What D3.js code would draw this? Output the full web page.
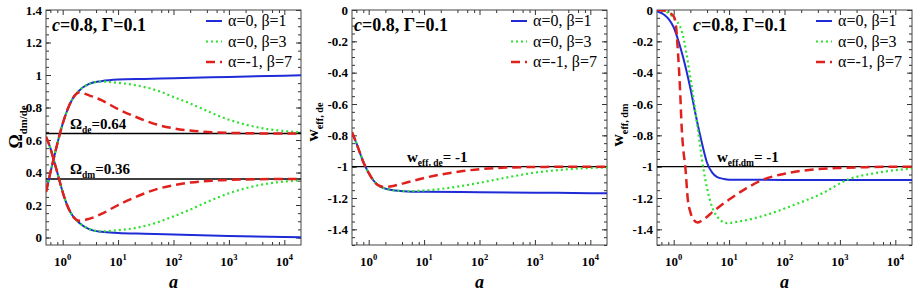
<!DOCTYPE html>
<html>
<head>
<meta charset="utf-8">
<script src="https://cdn.jsdelivr.net/npm/d3@7"></script>
<style>
body { margin: 0; background: #fff; }
</style>
</head>
<body>
<svg id="chart" width="917" height="300"></svg>
<script>
const fontFamily = 'Liberation Serif';

// x range shared by all panels
const aDomain = [0.5, 2e4];
const xMajor = [1, 10, 100, 1000, 10000];
const xExp = ['0', '1', '2', '3', '4'];

const omegaTicks = [0, 0.2, 0.4, 0.6, 0.8, 1, 1.2, 1.4];
const wTicks = [0, -0.2, -0.4, -0.6, -0.8, -1, -1.2, -1.4];

const legendLabels = ['α=0, β=1', 'α=0, β=3', 'α=-1, β=7'];

// panel 1 : Omega_de (rising) and Omega_dm (falling)
const omegaDeBlue = [[0.5,0.28],[0.6,0.40],[0.7,0.495],[0.8,0.577],[1,0.70],[1.2,0.78],[1.5,0.853],[2,0.905],[3,0.945],[5,0.962],[10,0.972],[30,0.976],[100,0.98],[1000,0.988],[1e4,0.996],[2e4,0.998]];
const omegaDeGreen = [[0.5,0.28],[0.6,0.40],[0.7,0.495],[0.8,0.577],[1,0.70],[1.2,0.78],[1.5,0.853],[2,0.905],[3,0.945],[5,0.96],[10,0.952],[20,0.938],[50,0.905],[100,0.865],[200,0.825],[500,0.765],[1000,0.725],[2000,0.695],[5000,0.667],[1e4,0.655],[2e4,0.647]];
const omegaDeRed = [[0.5,0.28],[0.6,0.40],[0.7,0.495],[0.8,0.577],[1,0.70],[1.2,0.78],[1.5,0.853],[2,0.892],[3,0.875],[5,0.845],[10,0.79],[20,0.745],[50,0.695],[100,0.672],[200,0.658],[500,0.648],[1000,0.644],[1e4,0.64],[2e4,0.64]];
const omegaDmBlue = [[0.5,0.62],[0.6,0.55],[0.7,0.47],[0.8,0.40],[1,0.28],[1.2,0.20],[1.5,0.135],[2,0.09],[3,0.052],[5,0.035],[10,0.028],[30,0.023],[100,0.018],[1000,0.01],[1e4,0.003],[2e4,0.001]];
const omegaDmGreen = [[0.5,0.62],[0.6,0.55],[0.7,0.47],[0.8,0.40],[1,0.28],[1.2,0.20],[1.5,0.135],[2,0.09],[3,0.053],[5,0.038],[10,0.045],[20,0.058],[50,0.092],[100,0.13],[200,0.172],[500,0.232],[1000,0.272],[2000,0.303],[5000,0.332],[1e4,0.344],[2e4,0.352]];
const omegaDmRed = [[0.5,0.62],[0.6,0.55],[0.7,0.47],[0.8,0.40],[1,0.28],[1.2,0.20],[1.5,0.135],[2,0.103],[3,0.115],[5,0.145],[10,0.2],[20,0.247],[50,0.298],[100,0.322],[200,0.338],[500,0.35],[1000,0.355],[1e4,0.36],[2e4,0.36]];

// panel 2 : w_eff,de
const wDeBlue = [[0.5,-0.78],[0.6,-0.85],[0.7,-0.915],[0.8,-0.97],[1,-1.04],[1.2,-1.085],[1.5,-1.12],[2,-1.14],[3,-1.152],[5,-1.158],[10,-1.16],[100,-1.163],[1000,-1.166],[1e4,-1.169],[2e4,-1.17]];
const wDeGreen = [[0.5,-0.78],[0.6,-0.85],[0.7,-0.915],[0.8,-0.97],[1,-1.04],[1.2,-1.085],[1.5,-1.12],[2,-1.14],[3,-1.152],[5,-1.157],[10,-1.152],[20,-1.142],[50,-1.122],[100,-1.103],[300,-1.07],[1000,-1.038],[3000,-1.02],[1e4,-1.008],[2e4,-1.005]];
const wDeRed = [[0.5,-0.78],[0.6,-0.85],[0.7,-0.915],[0.8,-0.97],[1,-1.04],[1.2,-1.085],[1.5,-1.12],[2,-1.13],[3,-1.12],[5,-1.1],[10,-1.072],[20,-1.05],[50,-1.028],[100,-1.016],[300,-1.006],[1000,-1.002],[2e4,-1.0]];

// panel 3 : w_eff,dm
const wDmBlue = [[0.5,-0.01],[0.6,-0.02],[0.7,-0.035],[0.8,-0.055],[1,-0.11],[1.2,-0.19],[1.5,-0.31],[2,-0.5],[2.5,-0.67],[3,-0.8],[3.5,-0.9],[4,-0.975],[5,-1.04],[6,-1.065],[8,-1.078],[10,-1.083],[100,-1.085],[2e4,-1.085]];
const wDmGreen = [[0.5,0],[0.7,-0.005],[0.8,-0.02],[1,-0.05],[1.41,-0.14],[2,-0.43],[2.63,-0.72],[3.46,-1.02],[4.57,-1.22],[6.9,-1.34],[9,-1.36],[15,-1.35],[36,-1.32],[134,-1.25],[500,-1.167],[1330,-1.085],[4540,-1.04],[2e4,-1.012]];
const wDmRed = [[0.5,0],[0.7,-0.005],[0.8,-0.015],[1,-0.04],[1.1,-0.1],[1.2,-0.28],[1.3,-0.5],[1.4,-0.76],[1.5,-0.9],[1.62,-1.0],[1.8,-1.21],[2,-1.29],[2.3,-1.34],[2.7,-1.357],[3.2,-1.345],[4,-1.32],[5,-1.29],[7,-1.25],[10,-1.21],[20,-1.14],[40,-1.085],[100,-1.045],[300,-1.02],[1000,-1.008],[3000,-1.003],[2e4,-1.0]];

const styles = [
    { color: '#1f2bd6', width: 2, dash: null },
    { color: '#2fe02f', width: 2.2, dash: '2,3' },
    { color: '#e0201c', width: 2.5, dash: '9,5' }
];

const svg = d3.select('#chart');
const plotTop = 10, plotBottom = 245;

function addSub(sel, main, sub, size, subSize, tail) {
    sel.append('tspan').text(main);
    sel.append('tspan').attr('font-size', subSize).attr('dy', size * 0.28).text(sub);
    if (tail) sel.append('tspan').attr('dy', -size * 0.28).text(tail);
}

function drawPanel(p, idx) {
    const x = d3.scaleLog().domain(aDomain).range([p.left, p.right]);
    const y = d3.scaleLinear().domain(p.yDomain).range([plotBottom, plotTop]);
    const g = svg.append('g');

    // minor ticks
    let xMinor = [];
    for (let k = -1; k <= 4; k++) {
        [2, 4, 6, 8].forEach(m => {
            const v = m * Math.pow(10, k);
            if (v > aDomain[0] && v < aDomain[1]) xMinor.push(v);
        });
    }
    let yMinor = [];
    for (let v = Math.ceil(p.yDomain[0] / 0.05); v <= Math.floor(p.yDomain[1] / 0.05); v++) {
        yMinor.push(v * 0.05);
    }

    const axes = [
        [d3.axisBottom(x), 'translate(0,' + plotBottom + ')', xMajor, xMinor],
        [d3.axisTop(x), 'translate(0,' + plotTop + ')', xMajor, xMinor],
        [d3.axisLeft(y), 'translate(' + p.left + ',0)', p.yTicks, yMinor],
        [d3.axisRight(y), 'translate(' + p.right + ',0)', p.yTicks, yMinor]
    ];
    axes.forEach(a => {
        const ax = a[0].tickFormat('').tickSizeOuter(0);
        g.append('g').attr('transform', a[1])
            .call(ax.tickValues(a[2]).tickSize(-5))
            .call(s => s.select('.domain').remove())
            .selectAll('line').attr('stroke', '#333');
        g.append('g').attr('transform', a[1])
            .call(a[0].tickValues(a[3]).tickSize(-3))
            .call(s => s.select('.domain').remove())
            .selectAll('line').attr('stroke', '#333');
    });

    g.append('rect')
        .attr('x', p.left).attr('y', plotTop)
        .attr('width', p.right - p.left).attr('height', plotBottom - plotTop)
        .attr('fill', 'none').attr('stroke', '#444').attr('stroke-width', 1);

    // tick labels
    g.selectAll('.ylab').data(p.yTicks).enter().append('text')
        .attr('x', p.left - 4).attr('y', d => y(d) + 4.5)
        .attr('text-anchor', 'end').attr('font-size', 13).attr('font-weight', 'bold')
        .text(d => String(d));
    g.selectAll('.xlab').data(xMajor).enter().append('text')
        .attr('x', d => x(d)).attr('y', 266)
        .attr('text-anchor', 'middle').attr('font-size', 13).attr('font-weight', 'bold')
        .each(function(d, i) {
            const t = d3.select(this);
            t.append('tspan').text('10');
            t.append('tspan').attr('font-size', 8.5).attr('dy', -6).text(xExp[i]);
        });

    // x title
    g.append('text').attr('x', (p.left + p.right) / 2).attr('y', 288)
        .attr('text-anchor', 'middle').attr('font-size', 18)
        .attr('font-weight', 'bold').attr('font-style', 'italic').text('a');

    // y title
    const yt = g.append('text')
        .attr('transform', 'translate(' + p.yTitleX + ',' + p.yTitleY + ') rotate(-90)')
        .attr('text-anchor', 'middle').attr('font-weight', 'bold').attr('font-size', p.yTitleSize);
    addSub(yt, p.yTitleMain, p.yTitleSub, p.yTitleSize, p.yTitleSize * 0.6);

    // reference lines
    p.refs.forEach(r => {
        g.append('line').attr('x1', p.left).attr('x2', p.right)
            .attr('y1', y(r.v)).attr('y2', y(r.v))
            .attr('stroke', '#000').attr('stroke-width', 1.3);
        const t = g.append('text').attr('x', r.lx).attr('y', y(r.v) - 5)
            .attr('font-size', 15).attr('font-weight', 'bold');
        addSub(t, r.main, r.sub, 15, 9.5, r.tail);
    });

    // curves
    const clipId = 'clip' + idx;
    svg.append('clipPath').attr('id', clipId).append('rect')
        .attr('x', p.left).attr('y', plotTop)
        .attr('width', p.right - p.left).attr('height', plotBottom - plotTop);
    const line = d3.line().x(d => x(d[0])).y(d => y(d[1])).curve(d3.curveMonotoneX);
    const cg = g.append('g').attr('clip-path', 'url(#' + clipId + ')');
    p.series.forEach(s => {
        const st = styles[s.style];
        cg.append('path').datum(s.data)
            .attr('d', line)
            .attr('fill', 'none')
            .attr('stroke', st.color)
            .attr('stroke-width', st.width)
            .attr('stroke-dasharray', st.dash);
    });

    // title
    const tt = g.append('text').attr('x', p.titleX).attr('y', 31)
        .attr('font-size', 18).attr('font-weight', 'bold');
    tt.append('tspan').attr('font-style', 'italic').text('c');
    tt.append('tspan').text('=0.8, Γ=0.1');

    // legend
    legendLabels.forEach((lab, i) => {
        const st = styles[i];
        const ly = 21 + i * 20.5;
        g.append('line').attr('x1', p.legX).attr('x2', p.legX + 16)
            .attr('y1', ly).attr('y2', ly)
            .attr('stroke', st.color).attr('stroke-width', st.width)
            .attr('stroke-dasharray', st.dash);
        g.append('text').attr('x', p.legX + 22).attr('y', ly + 5)
            .attr('font-size', 16).text(lab);
    });
}

const panels = [
    {
        left: 46, right: 301, yDomain: [-0.046, 1.4], yTicks: omegaTicks,
        yTitleX: 22, yTitleY: 127, yTitleMain: 'Ω', yTitleSub: 'dm/de', yTitleSize: 18,
        titleX: 52, legX: 206,
        refs: [
            { v: 0.64, lx: 70, main: 'Ω', sub: 'de', tail: '=0.64' },
            { v: 0.36, lx: 70, main: 'Ω', sub: 'dm', tail: '=0.36' }
        ],
        series: [
            { data: omegaDeBlue, style: 0 }, { data: omegaDmBlue, style: 0 },
            { data: omegaDeGreen, style: 1 }, { data: omegaDmGreen, style: 1 },
            { data: omegaDeRed, style: 2 }, { data: omegaDmRed, style: 2 }
        ]
    },
    {
        left: 352, right: 607, yDomain: [-1.5, 0], yTicks: wTicks,
        yTitleX: 318, yTitleY: 122, yTitleMain: 'w', yTitleSub: 'eff, de', yTitleSize: 17,
        titleX: 354, legX: 511,
        refs: [{ v: -1, lx: 407, main: 'w', sub: 'eff, de', tail: '= -1' }],
        series: [
            { data: wDeBlue, style: 0 }, { data: wDeGreen, style: 1 }, { data: wDeRed, style: 2 }
        ]
    },
    {
        left: 657, right: 912, yDomain: [-1.5, 0], yTicks: wTicks,
        yTitleX: 623, yTitleY: 125, yTitleMain: 'w', yTitleSub: 'eff, dm', yTitleSize: 17,
        titleX: 693, legX: 816,
        refs: [{ v: -1, lx: 717, main: 'w', sub: 'eff,dm', tail: '= -1' }],
        series: [
            { data: wDmBlue, style: 0 }, { data: wDmGreen, style: 1 }, { data: wDmRed, style: 2 }
        ]
    }
];

panels.forEach((p, i) => drawPanel(p, i));
svg.selectAll('text').attr('font-family', fontFamily);
</script>
</body>
</html>
